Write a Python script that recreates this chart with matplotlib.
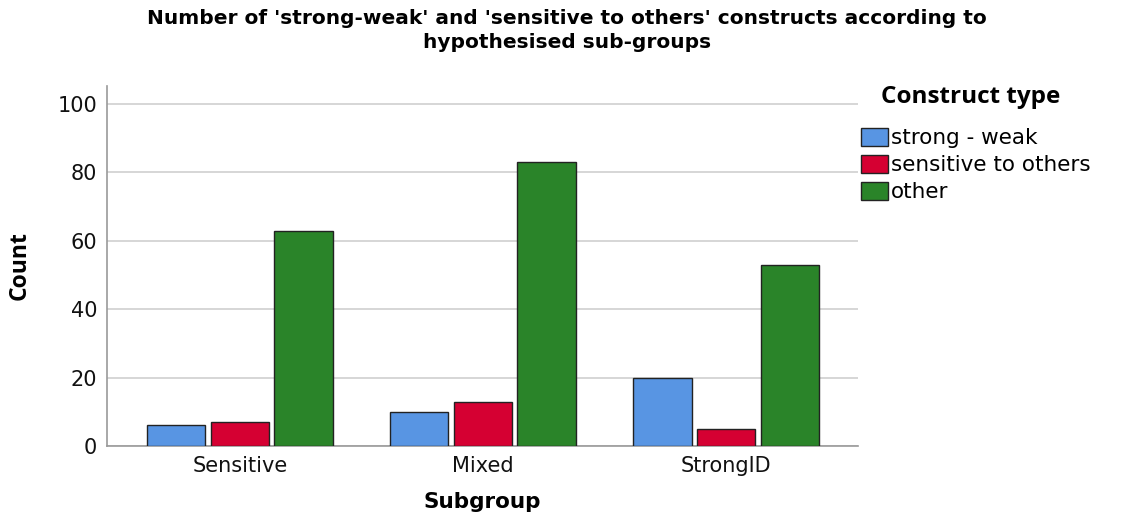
import numpy as np
import matplotlib.pyplot as plt
from matplotlib.patches import Patch

subgroups = ["Sensitive", "Mixed", "StrongID"]
types = ["strong - weak", "sensitive to others", "other"]
strong_weak = [6, 10, 20]
sensitive_others = [7, 13, 5]
other = [63, 83, 53]
colors = ["#5895E3", "#D50032", "#2A8429"]

fig = plt.figure(figsize=(11.38, 5.17), dpi=100)
ax = fig.add_axes([107/1138, 1-446/517, (858-107)/1138, (446-86)/517])

x = np.arange(len(subgroups))
w = 0.24
step = 0.262
for i, vals in enumerate([strong_weak, sensitive_others, other]):
    ax.bar(x + (i-1)*step, vals, width=w, color=colors[i], edgecolor="#222222",
           linewidth=1.0, zorder=3)

ax.set_xlim(-0.547, 2.543)
ax.set_ylim(0, 105.3)
ax.set_yticks([0, 20, 40, 60, 80, 100])
ax.set_xticks(x)
ax.set_xticklabels(subgroups)
ax.tick_params(length=0, labelsize=15, colors="#111111", pad=7)
ax.grid(axis="y", color="#d0d0d0", linewidth=1.2, zorder=0)
for s in ["top", "right"]:
    ax.spines[s].set_visible(False)
ax.spines["left"].set_color("#999999")
ax.spines["bottom"].set_color("#999999")
ax.spines["left"].set_linewidth(1.2)
ax.spines["bottom"].set_linewidth(1.2)

for lab in ax.get_xticklabels() + ax.get_yticklabels():
    lab.set_family("DejaVu Sans")

ax.set_xlabel("Subgroup", fontsize=15.5, fontweight="bold", family="DejaVu Sans", labelpad=12)
ax.set_ylabel("Count", fontsize=16.5, fontweight="bold", family="Open Sans", labelpad=19)

fig.text(567/1138, 1-9/517, "Number of 'strong-weak' and 'sensitive to others' constructs according to\nhypothesised sub-groups",
         ha="center", va="top", fontsize=14.5, fontweight="bold", family="DejaVu Sans",
         linespacing=1.3)

fig.text(881/1138, 1-97/517, "Construct type", ha="left", va="center", fontsize=17.5,
         fontweight="bold", family="Open Sans")

handles = [Patch(facecolor=c, edgecolor="#222222", label=t) for c, t in zip(colors, types)]
leg = fig.legend(handles=handles, loc="upper left", bbox_to_anchor=(861/1138, 1-128/517),
                 frameon=False, prop={"family": "DejaVu Sans", "size": 15.5},
                 handlelength=1.25, handleheight=0.9, handletextpad=0.15, labelspacing=0.3,
                 borderaxespad=0, borderpad=0)

fig.savefig("out.png", dpi=100)
